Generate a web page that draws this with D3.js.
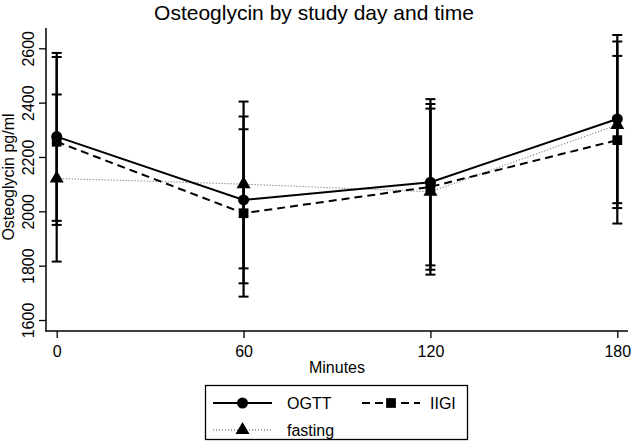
<!DOCTYPE html>
<html>
<head>
<meta charset="utf-8">
<script src="https://cdn.jsdelivr.net/npm/d3@7"></script>
<style>
	body { margin: 0; background: #fff; }
	text { font-family: "Liberation Sans", Arial, sans-serif; fill: #000; }
</style>
</head>
<body>
<div id="chart"></div>
<script>
// values
var minutes = [0, 60, 120, 180];
var yTicks = [1600, 1800, 2000, 2200, 2400, 2600];

var ogtt = [2275, 2042, 2107, 2340];
var ogttLow = [1965, 1735, 1801, 2030];
var ogttHigh = [2583, 2349, 2413, 2649];

var iigi = [2256, 1993, 2090, 2262];
var iigiLow = [1950, 1686, 1785, 1955];
var iigiHigh = [2568, 2302, 2395, 2572];

var fasting = [2121, 2100, 2072, 2318];
var fastingLow = [1815, 1790, 1767, 2012];
var fastingHigh = [2430, 2404, 2378, 2625];

var W = 633, H = 442;

var svg = d3.select('#chart').append('svg')
	.attr('width', W).attr('height', H);

var x = d3.scaleLinear().domain([0, 180]).range([56.7, 617.3]);
var y = d3.scaleLinear().domain([1600, 2600]).range([320, 48.3]);

var series = [
	{ name: 'OGTT', mean: ogtt, lo: ogttLow, hi: ogttHigh, dash: null, width: 2, color: '#000', marker: 'circle' },
	{ name: 'IIGI', mean: iigi, lo: iigiLow, hi: iigiHigh, dash: '8,5', width: 2, color: '#000', marker: 'square' },
	{ name: 'fasting', mean: fasting, lo: fastingLow, hi: fastingHigh, dash: '1,2', width: 1, color: '#555', marker: 'triangle' }
];

function markerPath(type) {
	if (type === 'circle') return d3.symbol().type(d3.symbolCircle).size(95)();
	if (type === 'square') return d3.symbol().type(d3.symbolSquare).size(95)();
	return d3.symbol().type(d3.symbolTriangle).size(85)();
}

// title
svg.append('text')
	.attr('x', 314).attr('y', 19.5)
	.attr('text-anchor', 'middle')
	.style('font-size', '21px')
	.text('Osteoglycin by study day and time');

// axes
var yAxis = d3.axisLeft(y).tickValues(yTicks).tickFormat(d3.format('d')).tickSize(7).tickSizeOuter(0);
var gy = svg.append('g').attr('transform', 'translate(46,0)').call(yAxis);
gy.select('.domain').remove();
gy.selectAll('line').attr('stroke', '#000').attr('stroke-width', 1.3);
gy.selectAll('text')
	.attr('x', 0).attr('y', 0).attr('dy', 0)
	.attr('transform', 'translate(-12.5,0) rotate(-90)')
	.attr('text-anchor', 'middle')
	.style('font-size', '16px');

var xAxis = d3.axisBottom(x).tickValues(minutes).tickFormat(d3.format('d')).tickSize(7).tickSizeOuter(0);
var gx = svg.append('g').attr('transform', 'translate(0,331)').call(xAxis);
gx.select('.domain').remove();
gx.selectAll('line').attr('stroke', '#000').attr('stroke-width', 1.3);
gx.selectAll('text').attr('y', 26).attr('dy', 0).style('font-size', '16px');

svg.append('line').attr('x1', 46).attr('x2', 46).attr('y1', 28).attr('y2', 331.5)
	.attr('stroke', '#000').attr('stroke-width', 1.5);
svg.append('line').attr('x1', 45.3).attr('x2', 628).attr('y1', 331).attr('y2', 331)
	.attr('stroke', '#000').attr('stroke-width', 1.5);

svg.append('text')
	.attr('x', 337).attr('y', 373)
	.attr('text-anchor', 'middle')
	.style('font-size', '16px')
	.text('Minutes');

svg.append('text')
	.attr('transform', 'translate(14,177) rotate(-90)')
	.attr('text-anchor', 'middle')
	.style('font-size', '16px')
	.text('Osteoglycin pg/ml');

// lines
var plot = svg.append('g');
var line = d3.line()
	.x(function (d, i) { return x(minutes[i]); })
	.y(function (d) { return y(d); });

series.slice().reverse().forEach(function (s) {
	plot.append('path')
		.attr('d', line(s.mean))
		.attr('fill', 'none')
		.attr('stroke', s.color)
		.attr('stroke-width', s.width)
		.attr('stroke-dasharray', s.dash);
});

// error bars
series.forEach(function (s) {
	var g = plot.append('g');
	for (var i = 0; i < minutes.length; i++) {
		var cx = x(minutes[i]);
		g.append('line')
			.attr('x1', cx).attr('x2', cx)
			.attr('y1', y(s.lo[i])).attr('y2', y(s.hi[i]))
			.attr('stroke', '#000').attr('stroke-width', 2.2);
		[s.lo[i], s.hi[i]].forEach(function (v) {
			g.append('line')
				.attr('x1', cx - 5).attr('x2', cx + 5)
				.attr('y1', y(v)).attr('y2', y(v))
				.attr('stroke', '#000').attr('stroke-width', 2);
		});
	}
});

// markers
series.forEach(function (s) {
	plot.selectAll(null)
		.data(s.mean)
		.enter().append('path')
		.attr('d', markerPath(s.marker))
		.attr('transform', function (d, i) { return 'translate(' + x(minutes[i]) + ',' + y(d) + ')'; })
		.attr('fill', '#000');
});

// legend
var legend = svg.append('g');
legend.append('rect')
	.attr('x', 205.5).attr('y', 385.5).attr('width', 262).attr('height', 54)
	.attr('fill', '#fff').attr('stroke', '#000').attr('stroke-width', 1.3);

var legendPos = [
	{ x1: 213, x2: 272, tx: 287, y: 403 },
	{ x1: 362, x2: 420, tx: 430, y: 403 },
	{ x1: 213, x2: 272, tx: 287, y: 430 }
];

series.forEach(function (s, i) {
	var p = legendPos[i];
	legend.append('line')
		.attr('x1', p.x1).attr('x2', p.x2).attr('y1', p.y).attr('y2', p.y)
		.attr('stroke', s.color).attr('stroke-width', s.width)
		.attr('stroke-dasharray', s.dash);
	legend.append('path')
		.attr('d', markerPath(s.marker))
		.attr('transform', 'translate(' + ((p.x1 + p.x2) / 2) + ',' + p.y + ')')
		.attr('fill', '#000');
	legend.append('text')
		.attr('x', p.tx).attr('y', p.y + 6)
		.style('font-size', '16px')
		.text(s.name);
});
</script>
</body>
</html>
